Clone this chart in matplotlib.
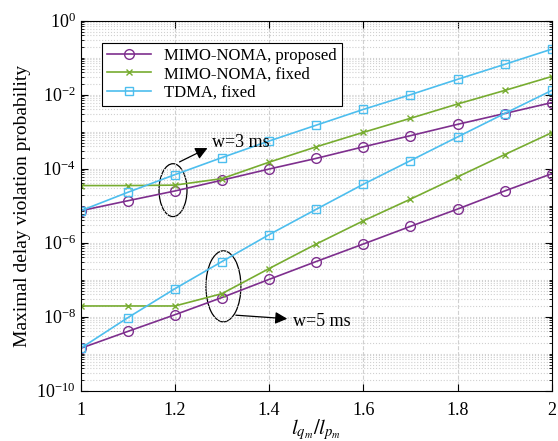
# Delay violation probability vs l_q/l_p, MATLAB-like style

import numpy as np
import matplotlib
matplotlib.use("Agg")
import matplotlib.pyplot as plt
from matplotlib.patches import Ellipse
from matplotlib.ticker import LogLocator, NullFormatter

plt.rcParams["font.family"] = ["Liberation Serif", "DejaVu Serif"]
plt.rcParams["mathtext.fontset"] = "stix"

# ==========================================
# Data
# ==========================================

ratio = [1.0, 1.1, 1.2, 1.3, 1.4, 1.5, 1.6, 1.7, 1.8, 1.9, 2.0]

# w = 3 ms
noma_prop_w3 = [7.3e-6, 1.36e-5, 2.5e-5, 4.9e-5, 9.8e-5, 1.9e-4, 3.9e-4, 7.8e-4, 1.58e-3, 3.1e-3, 6.1e-3]
noma_fix_w3 = [3.5e-5, 3.5e-5, 3.6e-5, 5.4e-5, 1.5e-4, 3.9e-4, 9.6e-4, 2.3e-3, 5.6e-3, 1.3e-2, 3.1e-2]
tdma_fix_w3 = [7.3e-6, 2.3e-5, 6.9e-5, 2.0e-4, 5.6e-4, 1.5e-3, 4.0e-3, 1.0e-2, 2.6e-2, 6.6e-2, 0.17]

# w = 5 ms
noma_prop_w5 = [1.4e-9, 4.0e-9, 1.13e-8, 3.3e-8, 1.02e-7, 3.1e-7, 9.2e-7, 2.76e-6, 8.1e-6, 2.5e-5, 7.3e-5]
noma_fix_w5 = [1.95e-8, 1.95e-8, 1.95e-8, 4.2e-8, 2.0e-7, 9.2e-7, 3.9e-6, 1.5e-5, 6.0e-5, 2.4e-4, 9.4e-4]
tdma_fix_w5 = [1.4e-9, 9.4e-9, 5.7e-8, 3.1e-7, 1.65e-6, 8.0e-6, 3.8e-5, 1.65e-4, 7.2e-4, 3.1e-3, 1.3e-2]

purple = "#7E2F8E"
green = "#77AC30"
blue = "#4DBEEE"

# ==========================================
# Plot
# ==========================================

fig = plt.figure(figsize=(5.58, 4.41), dpi=100)
ax = fig.add_axes([80.7 / 558, 1 - 390.7 / 441, 471 / 558, 370 / 441])

ax.semilogy(ratio, noma_prop_w3, color=purple, marker="o", mfc="none", ms=7, lw=1.2,
            label="MIMO-NOMA, proposed")
ax.semilogy(ratio, noma_fix_w3, color=green, marker="x", ms=5, lw=1.2,
            label="MIMO-NOMA, fixed")
ax.semilogy(ratio, tdma_fix_w3, color=blue, marker="s", mfc="none", ms=6, lw=1.2,
            label="TDMA, fixed")

ax.semilogy(ratio, noma_prop_w5, color=purple, marker="o", mfc="none", ms=7, lw=1.2)
ax.semilogy(ratio, noma_fix_w5, color=green, marker="x", ms=5, lw=1.2)
ax.semilogy(ratio, tdma_fix_w5, color=blue, marker="s", mfc="none", ms=6, lw=1.2)

ax.set_xlim(1, 2)
ax.set_ylim(1e-10, 1e0)
ax.set_xticks([1, 1.2, 1.4, 1.6, 1.8, 2])
ax.set_xticklabels(["1", "1.2", "1.4", "1.6", "1.8", "2"])
ax.yaxis.set_major_locator(LogLocator(base=100, numticks=10))
ax.yaxis.set_minor_locator(LogLocator(base=10, subs=np.arange(1, 10), numticks=20))
ax.yaxis.set_minor_formatter(NullFormatter())

ax.tick_params(which="both", direction="in", top=True, right=True, labelsize=13)
ax.tick_params(which="major", length=5)
ax.tick_params(which="minor", length=2.5)
ax.tick_params(axis="x", pad=8)
ax.grid(True, which="major", axis="x", linestyle="--", color="#d0d0d0", lw=0.8)
ax.grid(True, which="both", axis="y", linestyle=":", color="#d0d0d0", lw=0.8)

ax.set_xlabel(r"$l_{q_m}/l_{p_m}$", fontsize=15)
ax.xaxis.set_label_coords(0.5, -0.072)
ax.set_ylabel("Maximal delay violation probability", fontsize=14)

leg = ax.legend(loc="upper left", bbox_to_anchor=(0.028, 0.963), fontsize=12,
                fancybox=False, edgecolor="black", framealpha=1,
                handlelength=2.6, borderpad=0.3, labelspacing=0.15)
leg.get_frame().set_linewidth(0.8)

# Annotations
ax.add_patch(Ellipse((0.196, 0.542), 0.0594, 0.143, transform=ax.transAxes,
                     fill=False, color="black", lw=0.9))
ax.add_patch(Ellipse((0.303, 0.282), 0.0743, 0.192, transform=ax.transAxes,
                     fill=False, color="black", lw=0.9))

ax.annotate("", xy=(0.2745, 0.659), xytext=(0.2045, 0.615), xycoords="axes fraction",
            arrowprops=dict(arrowstyle="-|>", color="black", lw=0.9, mutation_scale=18))
ax.text(0.279, 0.672, "w=3 ms", transform=ax.transAxes, fontsize=13, va="center")

ax.annotate("", xy=(0.4444, 0.194), xytext=(0.3235, 0.2046), xycoords="axes fraction",
            arrowprops=dict(arrowstyle="-|>", color="black", lw=0.9, mutation_scale=18))
ax.text(0.4508, 0.186, "w=5 ms", transform=ax.transAxes, fontsize=13, va="center")

fig.savefig("out.png", dpi=100)
